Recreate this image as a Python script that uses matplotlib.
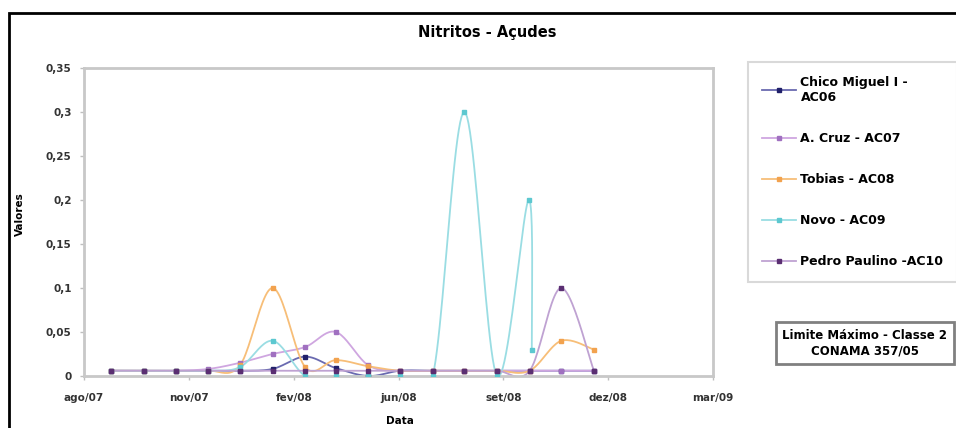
import numpy as np
import pandas as pd
import matplotlib
matplotlib.use("Agg")
import matplotlib.pyplot as plt
import matplotlib.dates as mdates
from matplotlib.lines import Line2D
from matplotlib.patches import Rectangle

plt.rcParams['font.family'] = ['DejaVu Sans']
plt.rcParams['font.weight'] = 'bold'

# sampling dates (monthly) and values
dates = ["2007-08-27", "2007-09-27", "2007-10-27", "2007-11-27", "2007-12-27",
         "2008-01-27", "2008-02-27", "2008-03-27", "2008-04-27", "2008-05-27",
         "2008-06-27", "2008-07-27", "2008-08-27", "2008-09-27", "2008-10-27",
         "2008-11-27"]
novo_dates = ["2007-08-27", "2007-09-27", "2007-10-27", "2007-11-27", "2007-12-27",
              "2008-01-27", "2008-02-27", "2008-03-27", "2008-04-27", "2008-05-27",
              "2008-06-27", "2008-07-27", "2008-08-27", "2008-09-26", "2008-09-29"]

chico = [0.006, 0.006, 0.006, 0.006, 0.006, 0.008, 0.022, 0.009, 0.0, 0.006,
         0.006, 0.006, 0.006, 0.006, 0.006, 0.006]
cruz = [0.006, 0.006, 0.006, 0.008, 0.015, 0.025, 0.033, 0.05, 0.012, 0.006,
        0.006, 0.006, 0.006, 0.006, 0.006, 0.006]
tobias = [0.006, 0.006, 0.006, 0.006, 0.012, 0.1, 0.01, 0.018, 0.011, 0.006,
          0.006, 0.006, 0.006, 0.006, 0.04, 0.03]
novo = [0.006, 0.006, 0.006, 0.006, 0.01, 0.04, 0.0, 0.0, 0.0, 0.0,
        0.0, 0.3, 0.0, 0.2, 0.03]
pedro = [0.006, 0.006, 0.006, 0.006, 0.006, 0.006, 0.006, 0.006, 0.006, 0.006,
         0.006, 0.006, 0.006, 0.006, 0.1, 0.006]

series_names = ["Chico Miguel I -\nAC06", "A. Cruz - AC07", "Tobias - AC08",
                "Novo - AC09", "Pedro Paulino -AC10"]
line_colors = ["#6A6AB0", "#CFA6E0", "#F7BE78", "#9ADDE3", "#BFA2D2"]
marker_colors = ["#20206A", "#A070C0", "#F2A24E", "#5CC8D0", "#5A2E72"]

x_labels = ["ago/07", "nov/07", "fev/08", "jun/08", "set/08", "dez/08", "mar/09"]
y_ticks = [0, 0.05, 0.1, 0.15, 0.2, 0.25, 0.3, 0.35]
y_labels = ["0", "0,05", "0,1", "0,15", "0,2", "0,25", "0,3", "0,35"]
x_start, x_end = "2007-08-01", "2009-03-20"


def smooth(ax, x, y, steps=24):
    # excel-like smoothed line (bezier through points, in screen space)
    pts = ax.transData.transform(np.column_stack([x, y]))
    out = [pts[0]]
    n = len(pts)
    t = np.linspace(0, 1, steps)[1:, None]
    for i in range(n - 1):
        p0 = pts[i - 1] if i > 0 else pts[i]
        p1 = pts[i]
        p2 = pts[i + 1]
        p3 = pts[i + 2] if i + 2 < n else pts[i + 1]
        c1 = p1 + (p2 - p0) / 6
        c2 = p2 - (p3 - p1) / 6
        seg = (1 - t)**3 * p1 + 3 * (1 - t)**2 * t * c1 + 3 * (1 - t) * t**2 * c2 + t**3 * p2
        out.extend(seg)
    out = ax.transData.inverted().transform(np.array(out))
    return out[:, 0], out[:, 1]


W, H = 956, 428
fig = plt.figure(figsize=(W / 100, H / 100), dpi=100)
fig.patches.append(Rectangle((9 / W, -0.2), 1.5, 1.2 - 13 / H, transform=fig.transFigure,
                             fill=False, edgecolor="black", linewidth=2))

ax = fig.add_axes([84 / W, 1 - 376 / H, (713 - 84) / W, (376 - 68) / H])
x0 = mdates.date2num(pd.Timestamp(x_start))
x1 = mdates.date2num(pd.Timestamp(x_end))
ax.set_xlim(x0, x1)
ax.set_ylim(0, 0.35)

all_x = [dates, dates, dates, novo_dates, dates]
all_y = [chico, cruz, tobias, novo, pedro]
for xs, ys, lc, mc in zip(all_x, all_y, line_colors, marker_colors):
    xn = mdates.date2num(pd.to_datetime(xs))
    sx, sy = smooth(ax, xn, ys)
    ax.plot(sx, sy, color=lc, lw=1.3, zorder=2)
    ax.plot(xn, ys, ls="none", marker="s", ms=3.5, color=mc, zorder=3)

ax.set_xticks(np.linspace(x0, x1, len(x_labels)))
ax.set_xticklabels(x_labels)
ax.set_yticks(y_ticks)
ax.set_yticklabels(y_labels)
ax.tick_params(axis="both", labelsize=7.5, colors="#BFBFBF", labelcolor="#333333",
               length=3, width=1)
ax.tick_params(axis="x", pad=9)
ax.tick_params(axis="y", pad=6)
for s in ax.spines.values():
    s.set_color("#C8C8C8")
    s.set_linewidth(2)

fig.text(487 / W, 1 - 33 / H, "Nitritos - Açudes", ha="center", va="center",
         fontsize=10.5, fontweight="bold")
fig.text(20 / W, 1 - 214 / H, "Valores", ha="center", va="center", rotation=90,
         fontsize=7.5, fontweight="bold")
fig.text(400 / W, 1 - 421 / H, "Data", ha="center", va="center",
         fontsize=7.5, fontweight="bold")

handles = [Line2D([], [], color=lc, lw=1.3, marker="s", ms=3.5, mfc=mc, mec=mc)
           for lc, mc in zip(line_colors, marker_colors)]
leg = fig.legend(handles, series_names, loc="upper left",
                 bbox_to_anchor=(748 / W, 1 - 62 / H), borderaxespad=0,
                 fontsize=9, frameon=True, fancybox=False, handlelength=2.7,
                 labelspacing=2.25, borderpad=1.1, handletextpad=0.4)
leg.get_frame().set_edgecolor("#D0D0D0")
leg.get_frame().set_linewidth(1.5)

fig.text(865 / W, 1 - 343 / H, "Limite Máximo - Classe 2\nCONAMA 357/05", ha="center",
         va="center", fontsize=8.5, fontweight="bold", linespacing=1.25,
         bbox=dict(boxstyle="square,pad=0.55", facecolor="white", edgecolor="#808080",
                   linewidth=2))

fig.savefig("out.png", dpi=100)
